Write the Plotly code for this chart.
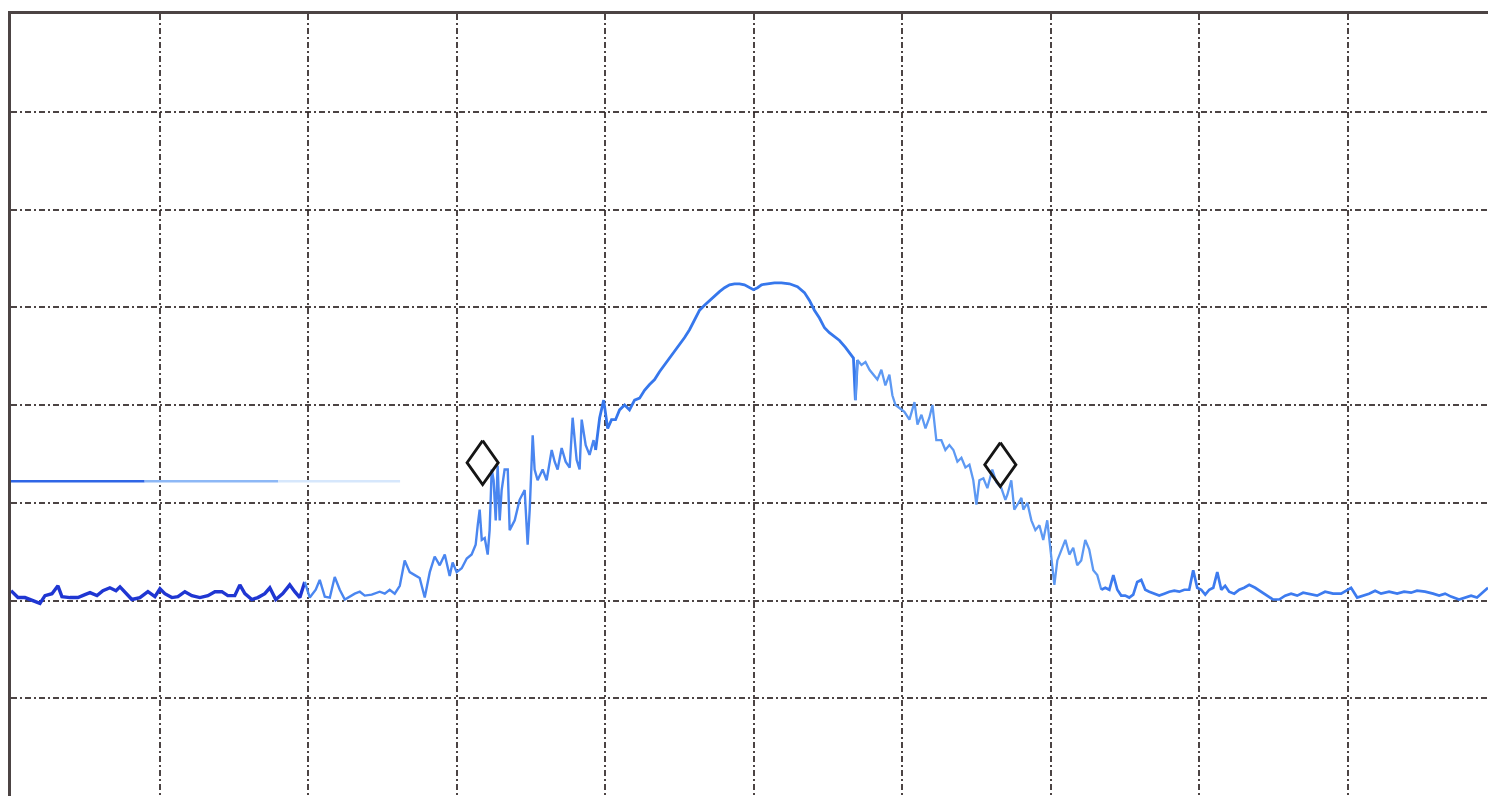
import plotly.graph_objects as go

# Spectrum trace: frequency in divisions (0..10), level in dB (reference 0 dB at top, 10 dB/div)
FREQ_DIV = [
    0.000, 0.047, 0.094, 0.141, 0.195, 0.229, 0.276, 0.316, 0.343, 0.397,
    0.451, 0.498, 0.532, 0.579, 0.619, 0.666, 0.707, 0.734, 0.767, 0.814,
    0.868, 0.922, 0.969, 1.003, 1.036, 1.083, 1.124, 1.171, 1.218, 1.272,
    1.326, 1.373, 1.420, 1.460, 1.507, 1.541, 1.575, 1.622, 1.662, 1.709,
    1.743, 1.783, 1.830, 1.877, 1.911, 1.945, 1.978, 2.012, 2.052, 2.079,
    2.113, 2.147, 2.180, 2.214, 2.248, 2.281, 2.315, 2.349, 2.382, 2.429,
    2.483, 2.517, 2.550, 2.584, 2.618, 2.651, 2.685, 2.719, 2.752, 2.786,
    2.820, 2.853, 2.887, 2.921, 2.954, 2.974, 3.001, 3.035, 3.069, 3.102,
    3.129, 3.143, 3.156, 3.170, 3.190, 3.210, 3.223, 3.237, 3.250, 3.264,
    3.277, 3.291, 3.304, 3.324, 3.345, 3.358, 3.392, 3.425, 3.459, 3.479,
    3.493, 3.513, 3.526, 3.546, 3.560, 3.580, 3.607, 3.641, 3.661, 3.681,
    3.708, 3.735, 3.762, 3.782, 3.809, 3.829, 3.843, 3.870, 3.896, 3.923,
    3.937, 3.964, 3.991, 4.018, 4.044, 4.071, 4.098, 4.132, 4.165, 4.199,
    4.233, 4.266, 4.300, 4.334, 4.367, 4.401, 4.435, 4.468, 4.502, 4.536,
    4.569, 4.603, 4.637, 4.670, 4.704, 4.738, 4.771, 4.805, 4.839, 4.872,
    4.906, 4.939, 4.973, 5.000, 5.027, 5.054, 5.094, 5.141, 5.188, 5.242,
    5.296, 5.343, 5.377, 5.410, 5.444, 5.478, 5.511, 5.579, 5.619, 5.646,
    5.673, 5.686, 5.700, 5.727, 5.754, 5.781, 5.808, 5.834, 5.861, 5.888,
    5.915, 5.935, 5.956, 5.983, 6.016, 6.050, 6.084, 6.104, 6.131, 6.158,
    6.184, 6.205, 6.231, 6.265, 6.292, 6.319, 6.346, 6.373, 6.400, 6.427,
    6.454, 6.480, 6.501, 6.521, 6.548, 6.575, 6.608, 6.635, 6.669, 6.696,
    6.709, 6.736, 6.756, 6.777, 6.804, 6.817, 6.844, 6.871, 6.898, 6.925,
    6.951, 6.978, 7.005, 7.026, 7.046, 7.073, 7.100, 7.127, 7.153, 7.180,
    7.207, 7.234, 7.261, 7.288, 7.315, 7.342, 7.369, 7.396, 7.423, 7.450,
    7.476, 7.503, 7.530, 7.557, 7.584, 7.611, 7.638, 7.665, 7.699, 7.732,
    7.766, 7.800, 7.833, 7.867, 7.901, 7.934, 7.961, 7.988, 8.015, 8.042,
    8.069, 8.096, 8.123, 8.150, 8.176, 8.203, 8.237, 8.271, 8.304, 8.338,
    8.378, 8.419, 8.459, 8.499, 8.540, 8.580, 8.620, 8.661, 8.701, 8.742,
    8.795, 8.849, 8.903, 8.957, 8.997, 9.024, 9.065, 9.105, 9.145, 9.186,
    9.226, 9.280, 9.334, 9.381, 9.428, 9.468, 9.522, 9.576, 9.617, 9.657,
    9.697, 9.751, 9.791, 9.832, 9.872, 9.919, 9.946,
]
LEVEL_DB = [
    -59.0, -59.7, -59.7, -60.0, -60.3, -59.5, -59.3, -58.5, -59.6, -59.7,
    -59.7, -59.4, -59.2, -59.5, -59.0, -58.7, -59.0, -58.6, -59.1, -59.9,
    -59.7, -59.1, -59.6, -58.8, -59.3, -59.7, -59.6, -59.1, -59.5, -59.7,
    -59.5, -59.1, -59.1, -59.5, -59.5, -58.4, -59.3, -59.9, -59.7, -59.3,
    -58.7, -59.9, -59.3, -58.4, -59.1, -59.7, -58.1, -59.7, -58.9, -57.9,
    -59.6, -59.7, -57.6, -58.9, -59.9, -59.6, -59.3, -59.1, -59.5, -59.4,
    -59.1, -59.3, -58.9, -59.3, -58.5, -55.9, -57.1, -57.4, -57.7, -59.7,
    -57.1, -55.5, -56.4, -55.3, -57.5, -56.1, -57.1, -56.7, -55.7, -55.3,
    -54.3, -52.3, -50.7, -53.8, -53.6, -55.3, -52.8, -46.6, -47.7, -51.8,
    -46.2, -51.8, -48.7, -46.6, -46.6, -52.8, -51.8, -49.7, -48.7, -54.3,
    -50.7, -43.1, -46.6, -47.7, -47.2, -46.6, -47.7, -44.6, -45.8, -46.6,
    -44.4, -45.8, -46.4, -41.3, -45.6, -46.6, -41.5, -44.1, -45.1, -43.6,
    -44.6, -41.3, -39.5, -42.4, -41.5, -41.5, -40.5, -40.0, -40.5, -39.5,
    -39.3, -38.5, -37.9, -37.4, -36.6, -35.9, -35.2, -34.6, -33.9, -33.1,
    -32.3, -31.3, -30.3, -29.8, -29.3, -28.8, -28.4, -28.0, -27.7, -27.6,
    -27.6, -27.7, -28.0, -28.2, -28.0, -27.7, -27.6, -27.5, -27.5, -27.6,
    -27.9, -28.5, -29.3, -30.3, -31.1, -32.1, -32.6, -33.4, -34.1, -34.6,
    -35.2, -39.5, -35.4, -35.9, -35.6, -36.4, -36.9, -37.4, -36.4, -38.0,
    -36.9, -39.0, -40.0, -40.3, -40.7, -41.5, -39.7, -42.0, -41.0, -42.4,
    -41.3, -40.0, -43.6, -43.6, -44.6, -44.1, -44.6, -45.8, -45.4, -46.4,
    -46.1, -47.7, -50.2, -47.7, -47.5, -48.5, -46.6, -47.9, -48.5, -49.7,
    -49.2, -47.7, -50.7, -50.2, -49.5, -50.7, -50.0, -51.8, -52.8, -52.3,
    -53.8, -51.8, -55.3, -58.4, -55.9, -54.8, -53.8, -55.3, -54.6, -56.4,
    -55.9, -53.8, -54.8, -56.9, -57.4, -58.9, -58.7, -58.9, -57.4, -58.9,
    -59.5, -59.5, -59.7, -59.4, -58.1, -57.9, -58.9, -59.1, -59.3, -59.5,
    -59.3, -59.1, -59.0, -59.1, -58.9, -58.9, -56.9, -58.7, -58.9, -59.4,
    -58.9, -58.7, -57.1, -58.9, -58.5, -59.1, -59.3, -58.9, -58.7, -58.4,
    -58.7, -59.1, -59.5, -59.9, -59.9, -59.5, -59.3, -59.5, -59.2, -59.3,
    -59.5, -59.1, -59.3, -59.3, -58.9, -58.7, -59.7, -59.5, -59.3, -59.0,
    -59.3, -59.1, -59.3, -59.1, -59.2, -59.0, -59.1, -59.3, -59.5, -59.3,
    -59.6, -59.9, -59.7, -59.5, -59.7, -59.1, -58.7,
]

# Display line (reference level line on the left)
DISPLAY_LINE_END = 2.62
DISPLAY_LINE_DB = -47.8

# Markers (diamonds)
MARKER_X = [3.176, 6.662]
MARKER_DB = [-45.9, -46.1]

# Diamond half-size (style): in x-divisions and dB
DIAMOND_HW = 0.105
DIAMOND_HH = 2.25

# Colour segments of the scanned trace (start, end in divisions)
SEGMENTS = [
    (0.0, 2.0, "#1f36d2", 3.4),
    (2.0, 3.95, "#4a86f0", 2.4),
    (3.95, 5.7, "#3677ec", 2.8),
    (5.7, 7.35, "#5d99f3", 2.3),
    (7.35, 10.0, "#3d7bef", 2.7),
]

GRID_COLOR = "rgba(45,35,35,0.85)"

fig = go.Figure()

# reference display line fading out to the right
fade = [(0.0, 0.9, "#2f66e6"), (0.9, 1.8, "#8db8f6"), (1.8, DISPLAY_LINE_END, "#d6e7fc")]
for a, b, c in fade:
    fig.add_trace(go.Scatter(x=[a, b], y=[DISPLAY_LINE_DB, DISPLAY_LINE_DB], mode="lines",
                             line=dict(color=c, width=2.6), showlegend=False, hoverinfo="skip"))

for a, b, c, w in SEGMENTS:
    idx = [i for i, f in enumerate(FREQ_DIV) if a <= f <= b]
    if idx and idx[0] > 0:
        idx = [idx[0] - 1] + idx
    fig.add_trace(go.Scatter(
        x=[FREQ_DIV[i] for i in idx], y=[LEVEL_DB[i] for i in idx], mode="lines",
        line=dict(color=c, width=w), showlegend=False, hoverinfo="skip"))

# open diamond markers drawn as closed outlines around each marker position
for mx, my in zip(MARKER_X, MARKER_DB):
    fig.add_trace(go.Scatter(
        x=[mx, mx + DIAMOND_HW, mx, mx - DIAMOND_HW, mx],
        y=[my + DIAMOND_HH, my, my - DIAMOND_HH, my, my + DIAMOND_HH],
        mode="lines", line=dict(color="#151515", width=2.8),
        showlegend=False, hoverinfo="skip"))

fig.update_layout(
    width=1488, height=796,
    margin=dict(l=11, r=0, t=14, b=0),
    paper_bgcolor="white", plot_bgcolor="white",
    xaxis=dict(range=[0, 9.946], dtick=1, tick0=0, showticklabels=False, ticks="",
               showgrid=True, gridcolor=GRID_COLOR, gridwidth=1.7, griddash="6px,3px,2px,3px",
               zeroline=False, showline=True, linecolor=GRID_COLOR, linewidth=2.5, side="top"),
    yaxis=dict(range=[-80, 0], dtick=10, tick0=0, showticklabels=False, ticks="",
               showgrid=True, gridcolor=GRID_COLOR, gridwidth=1.7, griddash="6px,3px,2px,3px",
               zeroline=False, showline=True, linecolor=GRID_COLOR, linewidth=2.5),
)

fig.write_html("out.html", config={"displayModeBar": False},
               post_script="document.body.style.margin='0';document.body.style.overflow='hidden';")
